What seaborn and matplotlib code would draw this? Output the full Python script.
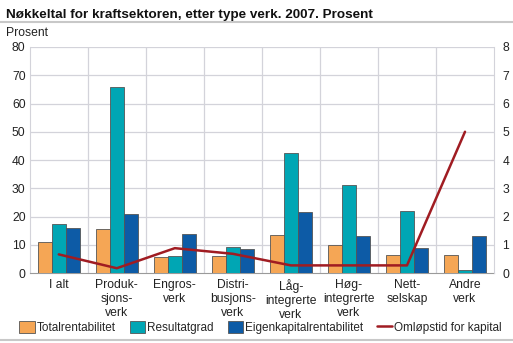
import matplotlib
matplotlib.use("Agg")
import matplotlib.pyplot as plt
import seaborn as sns
import pandas as pd
import numpy as np
from matplotlib.patches import Patch
from matplotlib.lines import Line2D

categories = ["I alt", "Produk-\nsjons-\nverk", "Engros-\nverk", "Distri-\nbusjons-\nverk",
              "Låg-\nintegrerte\nverk", "Høg-\nintegrerte\nverk", "Nett-\nselskap", "Andre\nverk"]
totalrentabilitet = [11.0, 15.5, 5.6, 6.0, 13.6, 9.8, 6.3, 6.3]
resultatgrad = [17.2, 65.8, 6.0, 9.3, 42.6, 31.0, 21.9, 0.9]
eigenkapitalrentabilitet = [16.0, 20.8, 13.9, 8.6, 21.5, 13.1, 8.8, 13.1]
omlopstid = [0.66, 0.17, 0.88, 0.68, 0.27, 0.27, 0.27, 5.0]

series_names = ["Totalrentabilitet", "Resultatgrad", "Eigenkapitalrentabilitet"]
line_name = "Omløpstid for kapital"
colors = ["#F5A655", "#00A6B4", "#0D5BA6"]
line_color = "#A01C22"

df = pd.DataFrame({
    "kategori": categories * 3,
    "verdi": totalrentabilitet + resultatgrad + eigenkapitalrentabilitet,
    "serie": [series_names[0]] * 8 + [series_names[1]] * 8 + [series_names[2]] * 8,
})

sns.set_style("white")
plt.rcParams["font.family"] = ["Liberation Sans", "DejaVu Sans"]

fig = plt.figure(figsize=(5.13, 3.43), dpi=100)
ax = fig.add_axes([0.058, 0.204, 0.905, 0.659])

sns.barplot(data=df, x="kategori", y="verdi", hue="serie", palette=colors,
            saturation=1, width=0.72, gap=0, edgecolor="#555555", linewidth=0.6,
            ax=ax, legend=False, zorder=3)

ax.set_ylim(0, 80)
ax.set_yticks(range(0, 81, 10))
ax.set_xlim(-0.5, len(categories) - 0.5)
ax.set_xlabel("")
ax.set_ylabel("")
ax.grid(False)
for y in range(10, 81, 10):
    ax.axhline(y, color="#D3D3DA", lw=0.9, zorder=0)
for x in np.arange(0.5, len(categories) - 0.5, 1):
    ax.axvline(x, color="#D3D3DA", lw=0.9, zorder=0)
for s in ["top", "right"]:
    ax.spines[s].set_visible(False)
ax.spines["left"].set_color("#D3D3DA")
ax.spines["bottom"].set_color("#9A9A9A")
ax.tick_params(axis="both", length=0, labelsize=8.7, colors="#222222", pad=3)
ax.tick_params(axis="x", pad=4)
for lbl in ax.get_xticklabels():
    lbl.set_linespacing(1.25)

ax2 = ax.twinx()
ax2.plot(np.arange(len(categories)), omlopstid, color=line_color, lw=1.8, zorder=5)
ax2.set_ylim(0, 8)
ax2.set_yticks(range(0, 9))
for s in ["top", "left", "bottom"]:
    ax2.spines[s].set_visible(False)
ax2.spines["right"].set_color("#D3D3DA")
ax2.tick_params(axis="y", length=0, labelsize=8.7, colors="#222222", pad=6)
ax2.grid(False)

fig.text(0.012, 0.955, "Nøkkeltal for kraftsektoren, etter type verk. 2007. Prosent",
         fontsize=9.7, fontweight="bold", color="#111111", va="center")
fig.add_artist(Line2D([0.0, 1.0], [0.935, 0.935], color="#C8C8C8", lw=1.5))
fig.text(0.012, 0.905, "Prosent", fontsize=8.7, color="#222222", va="center")
fig.add_artist(Line2D([0.0, 1.0], [0.008, 0.008], color="#C8C8C8", lw=1.5))

handles = [Patch(facecolor=c, edgecolor="#555555", linewidth=0.6) for c in colors]
handles.append(Line2D([0], [0], color=line_color, lw=1.8))
fig.legend(handles, series_names + [line_name], loc="center", ncol=4,
           bbox_to_anchor=(0.508, 0.045), frameon=False, fontsize=8.5,
           handlelength=1.3, handleheight=1.1, handletextpad=0.15, columnspacing=1.2)

fig.savefig("out.png", dpi=100)
